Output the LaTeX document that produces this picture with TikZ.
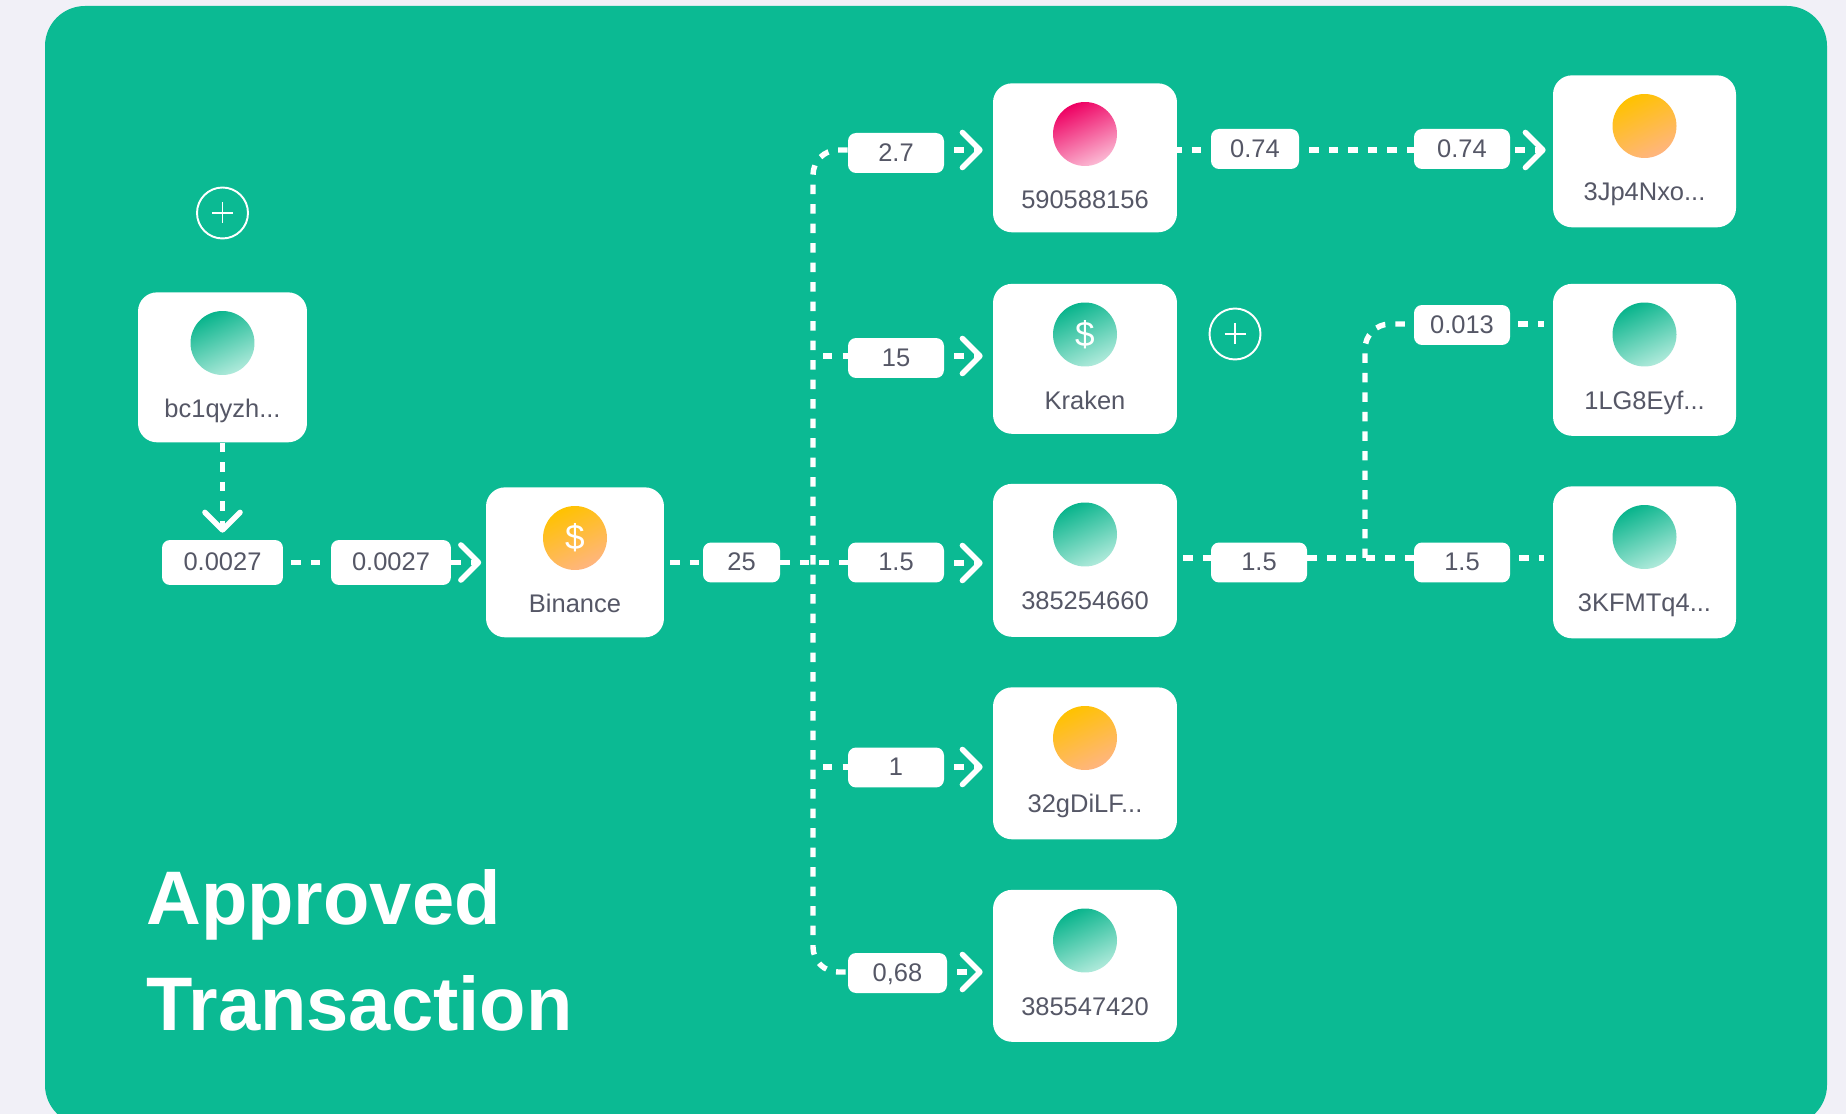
\documentclass[tikz,border=0pt]{standalone}
\usepackage{fontspec}
\setmainfont{Liberation Sans}
\usetikzlibrary{arrows.meta}
\definecolor{pagebg}{HTML}{F1F0F7}
\definecolor{panelgreen}{HTML}{0BBA93}
\definecolor{inkgray}{HTML}{555766}
\definecolor{greentop}{HTML}{08B48C}
\definecolor{greenlow}{HTML}{B0EADB}
\definecolor{orangetop}{HTML}{FFC200}
\definecolor{orangemid}{HTML}{FFA033}
\definecolor{orangelow}{HTML}{FFB580}
\definecolor{pinktop}{HTML}{EE0062}
\definecolor{pinkmid}{HTML}{F23E8C}
\definecolor{pinklow}{HTML}{FBBAD4}
\newcommand{\cutoff}{...}
\tikzset{
  card/.style={fill=white, rounded corners=.38cm, anchor=north, inner sep=0pt},
  cardtext/.style={text=inkgray, inner sep=0pt, text height=.35cm, text depth=0pt, font=\fontsize{14.5}{17}\selectfont},
  amount/.style={fill=white, rounded corners=.16cm, inner sep=0pt, text=inkgray, text height=.33cm, text depth=0pt, font=\fontsize{14.5}{17}\selectfont},
  coin/.style={circle, minimum size=1.28cm, inner sep=0pt, text=white, font=\fontsize{20}{24}\selectfont},
  coingreen/.style={coin, top color=greentop, bottom color=greenlow, shading angle=25},
  coinorange/.style={coin, top color=orangetop, middle color=orangemid, bottom color=orangelow, shading angle=25},
  coinpink/.style={coin, top color=pinktop, middle color=pinkmid, bottom color=pinklow, shading angle=25},
  flow/.style={draw=white, line width=3.1pt, dash pattern=on 5.4pt off 5.7pt},
  flowto/.style={flow, -{Straight Barb[length=10pt, width=20pt, round]}},
  addbtn/.style={circle, draw=white, line width=1.1pt, minimum size=1.02cm, inner sep=0pt,
    path picture={\draw [white, line width=1.1pt] (path picture bounding box.center) ++(-10.5,0) -- ++(21,0)
      (path picture bounding box.center) ++(0,-10.5) -- ++(0,21);}},
  headline/.style={text=white, anchor=base west, inner sep=0pt, font=\fontsize{43.2}{50}\selectfont\bfseries},
}
\begin{document}
\begin{tikzpicture}[x=.02cm, y=-.02cm]
  \useasboundingbox (0,0) rectangle (1846,1114);
  \fill [pagebg] (0,0) rectangle (1846,1114);
  \begin{scope}
    \clip (0,0) rectangle (1846,1114);
    \fill [panelgreen, rounded corners=.8cm] (45,6) rectangle (1827,1125);
  \end{scope}
  % wallets
  \foreach \name/\xc/\ytop/\boxw/\boxh/\coinstyle/\sym/\txt in {
    bc/222.5/292/3.38/3.0/coingreen//bc1qyzh\cutoff,
    binance/575/487/3.56/3.0/coinorange/\$/Binance,
    pay/1085/83/3.68/2.98/coinpink//590588156,
    kraken/1085/283.5/3.68/3.0/coingreen/\$/Kraken,
    mid/1085/483.5/3.68/3.06/coingreen//385254660,
    dili/1085/687/3.68/3.04/coinorange//32gDiLF\cutoff,
    low/1085/889.5/3.68/3.04/coingreen//385547420,
    jp/1644.5/75/3.66/3.04/coinorange//3Jp4Nxo\cutoff,
    lg/1644.5/283.5/3.66/3.04/coingreen//1LG8Eyf\cutoff,
    kf/1644.5/486/3.66/3.04/coingreen//3KFMTq4\cutoff} {
    \node [card, minimum width=\boxw cm, minimum height=\boxh cm] (\name) at (\xc,\ytop) {};
    \node [\coinstyle] (\name coin) at (\xc,\ytop+51) {\sym};
    \node [cardtext] (\name text) at (\xc,\ytop+117) {\txt};
  };
  % amounts
  \foreach \name/\xc/\yc/\boxw/\boxh/\txt in {
    inA/222.5/562.5/2.42/.9/0.0027,
    inB/391/562.5/2.4/.9/0.0027,
    total/741.5/562.5/1.54/.8/25,
    toPay/896/153/1.92/.8/2.7,
    toKraken/896/358/1.92/.8/15,
    toMid/896/562.5/1.92/.8/1.5,
    toDili/896/767.5/1.92/.8/1,
    toLow/897.5/973/1.98/.8/{0,68},
    payA/1255/149/1.76/.8/0.74,
    payB/1462/149/1.92/.8/0.74,
    lgA/1462/325/1.92/.8/0.013,
    midA/1259/562.5/1.92/.8/1.5,
    kfA/1462/562.5/1.92/.8/1.5} {
    \node [amount, minimum width=\boxw cm, minimum height=\boxh cm] (\name) at (\xc,\yc) {\txt};
  };
  % rows of the connectors
  \coordinate (rowA) at (813,150);
  \coordinate (rowB) at (813,356);
  \coordinate (rowC) at (813,563);
  \coordinate (rowD) at (813,767);
  \coordinate (rowE) at (813,972);
  \coordinate (rowLg) at (1365,324);
  \coordinate (rowKf) at (1365,558);
  % left part
  \draw [flowto, shorten >=.14cm] (bc.south) -- (inA.north);
  \draw [flow, shorten <=.16cm, shorten >=.2cm] (inA.east) -- (inB.west);
  \draw [flowto, shorten >=.09cm] (inB.east) -- (binance.west |- inB);
  \draw [flow, shorten <=.12cm] (binance.east |- total) -- (total.west);
  % trunk
  \draw [flow] (total.east) -- (toMid.west);
  \draw [flow, rounded corners=.5cm] (toPay.west |- rowA) -- (rowA) -- (rowE) -- (toLow.west |- rowE);
  \draw [flow, shorten <=.2cm] (rowB) -- (toKraken.west |- rowB);
  \draw [flow, shorten <=.2cm] (rowD) -- (toDili.west |- rowD);
  \foreach \a/\b/\r in {toPay/pay/rowA, toKraken/kraken/rowB, toMid/mid/rowC, toDili/dili/rowD, toLow/low/rowE} {
    \draw [flowto, shorten <=.2cm, shorten >=.2cm] (\a.east |- \r) -- (\b.west |- \r);
  };
  % right part
  \draw [flow, dash phase=3pt] (pay.east |- rowA) -- (payA.west |- rowA);
  \draw [flow, shorten <=.2cm] (payA.east |- rowA) -- (payB.west |- rowA);
  \draw [flowto, shorten <=.1cm, shorten >=.14cm] (payB.east |- rowA) -- (jp.west |- rowA);
  \draw [flow, shorten <=.12cm] (mid.east |- rowKf) -- (midA.west |- rowKf);
  \draw [flow] (midA.east |- rowKf) -- (kfA.west |- rowKf);
  \draw [flow, rounded corners=.5cm] (rowKf) -- (rowLg) -- (lgA.west |- rowLg);
  \draw [flow, shorten <=.16cm, shorten >=.18cm] (lgA.east |- rowLg) -- (lg.west |- rowLg);
  \draw [flow, shorten <=.18cm, shorten >=.18cm] (kfA.east |- rowKf) -- (kf.west |- rowKf);
  % add buttons
  \node [addbtn] (addBc) at (222.5,213) {};
  \node [addbtn] (addKraken) at (1235,334) {};
  % title
  \node [headline] (titleA) at (146,924) {Approved};
  \node [headline] (titleB) at (146,1030) {Transaction};
\end{tikzpicture}
\end{document}
